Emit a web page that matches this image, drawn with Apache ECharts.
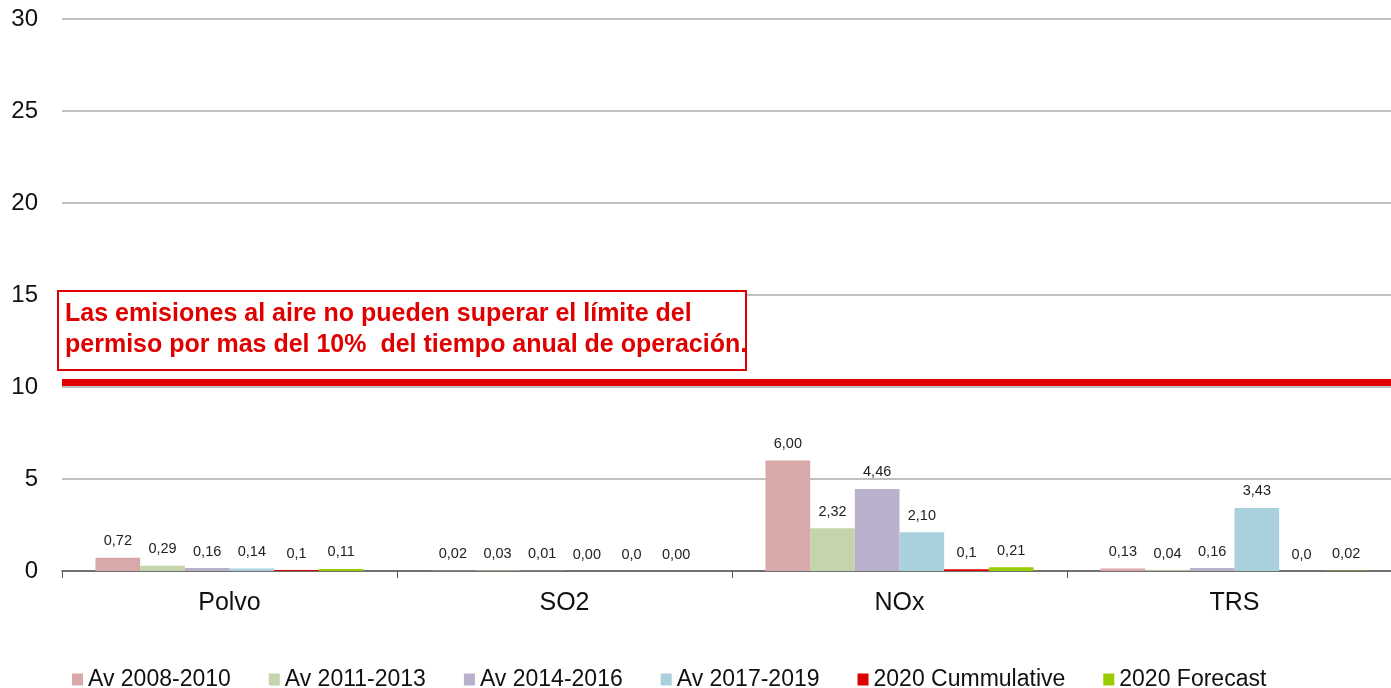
<!DOCTYPE html>
<html>
<head>
<meta charset="utf-8">
<script src="https://cdn.jsdelivr.net/npm/echarts@6/dist/echarts.min.js"></script>
<style>html,body{margin:0;padding:0;background:#fff;overflow:hidden}#c{width:1402px;height:688px}</style>
</head>
<body>
<div id="c"></div>
<script>
const categories = ['Polvo', 'SO2', 'NOx', 'TRS'];
const seriesNames = ['Av 2008-2010', 'Av 2011-2013', 'Av 2014-2016', 'Av 2017-2019', '2020 Cummulative', '2020 Forecast'];
const av0810 = [0.72, 0.02, 6.00, 0.13];
const av1113 = [0.29, 0.03, 2.32, 0.04];
const av1416 = [0.16, 0.01, 4.46, 0.16];
const av1719 = [0.14, 0.00, 2.10, 3.43];
const cum2020 = [0.05, 0.00, 0.10, 0.00];
const fc2020 = [0.11, 0.00, 0.21, 0.02];
const labels0810 = ['0,72', '0,02', '6,00', '0,13'];
const labels1113 = ['0,29', '0,03', '2,32', '0,04'];
const labels1416 = ['0,16', '0,01', '4,46', '0,16'];
const labels1719 = ['0,14', '0,00', '2,10', '3,43'];
const labelsCum = ['0,1', '0,0', '0,1', '0,0'];
const labelsFc = ['0,11', '0,00', '0,21', '0,02'];
const limitValue = 10.24;
const noteText = 'Las emisiones al aire no pueden superar el límite del\npermiso por mas del 10%  del tiempo anual de operación.';
const yTicks = [0, 5, 10, 15, 20, 25, 30];

const values = [av0810, av1113, av1416, av1719, cum2020, fc2020];
const labelSets = [labels0810, labels1113, labels1416, labels1719, labelsCum, labelsFc];
const colors = ['#d9a8a8', '#c5d5ab', '#b9b0cc', '#a9d0dd', '#dc0000', '#99cc00'];
const FONT = 'Liberation Sans, Arial, sans-serif';

const chart = echarts.init(document.getElementById('c'));
const series = seriesNames.map((name, i) => ({
  name: name,
  type: 'bar',
  data: values[i],
  barGap: '0%',
  barCategoryGap: '20%',
  itemStyle: { color: colors[i] },
  label: {
    show: true,
    position: 'top',
    distance: 9,
    color: '#222',
    fontSize: 14.5,
    fontFamily: FONT,
    formatter: p => labelSets[i][p.dataIndex]
  },
  markLine: i === 0 ? {
    silent: true,
    symbol: ['none', 'none'],
    label: { show: false },
    lineStyle: { color: '#e00000', width: 7, type: 'solid' },
    data: [{ yAxis: limitValue }]
  } : undefined
}));

chart.setOption({
  animation: false,
  backgroundColor: '#fff',
  grid: { left: 62, right: 0, top: 19, bottom: 117, containLabel: false },
  legend: {
    top: 663,
    left: 67,
    itemWidth: 11,
    itemHeight: 12,
    itemGap: 38,
    icon: 'rect',
    textStyle: { fontSize: 23, color: '#111', fontFamily: FONT },
    data: seriesNames
  },
  xAxis: {
    type: 'category',
    data: categories,
    axisLine: { lineStyle: { color: '#555', width: 1.5 } },
    axisTick: { show: true, length: 7, lineStyle: { color: '#555' } },
    axisLabel: { fontSize: 25, color: '#111', margin: 20, fontFamily: FONT }
  },
  yAxis: {
    type: 'value',
    min: 0, max: 30, interval: 5,
    axisLine: { show: false },
    axisTick: { show: false },
    axisLabel: { fontSize: 24, color: '#111', margin: 24, fontFamily: FONT,
      formatter: v => yTicks.includes(v) ? String(v) : '' },
    splitLine: { lineStyle: { color: '#c0c0c0', width: 2 } }
  },
  graphic: [
    {
      type: 'rect',
      left: 57, top: 290,
      shape: { width: 688, height: 79 },
      style: { fill: '#fff', stroke: '#e00000', lineWidth: 2 },
      z: 10
    },
    {
      type: 'text',
      left: 65, top: 299,
      style: {
        text: noteText,
        fill: '#e00000',
        font: 'bold 25px "Liberation Sans", Arial, sans-serif',
        lineHeight: 31
      },
      z: 11
    }
  ],
  series: series
});
</script>
</body>
</html>
